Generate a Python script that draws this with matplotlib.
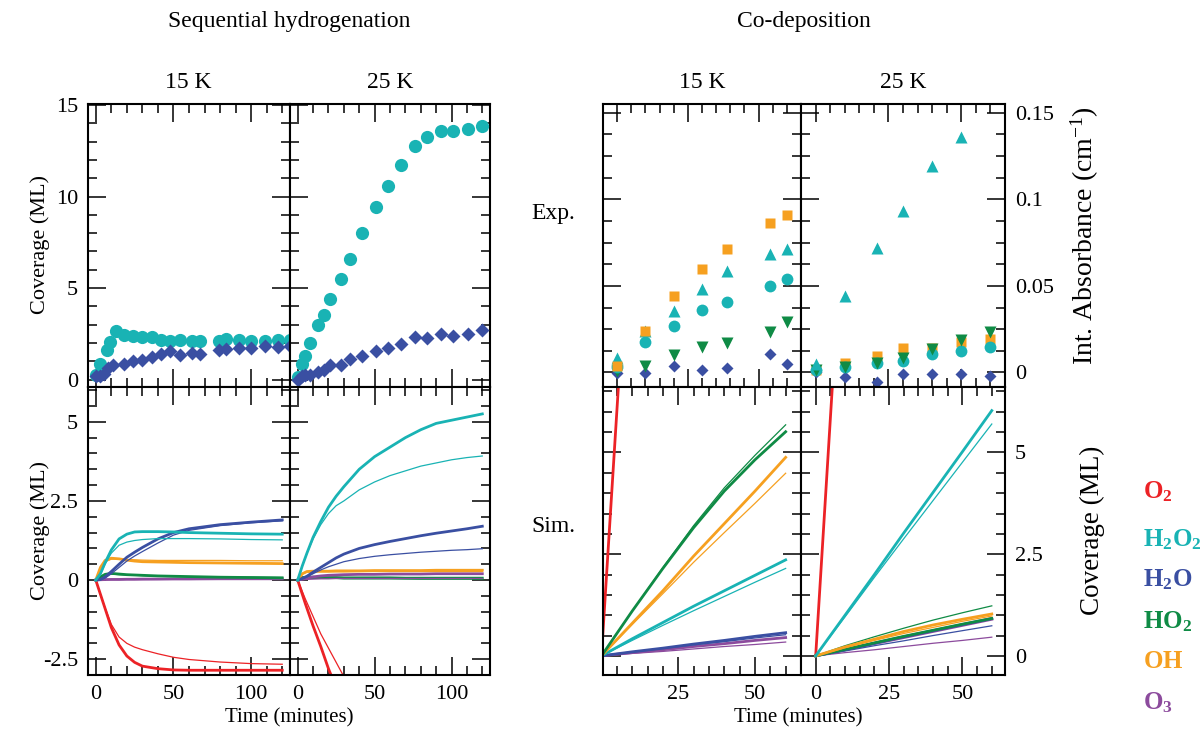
import matplotlib
matplotlib.use('Agg')
import matplotlib.pyplot as plt
from matplotlib.ticker import MultipleLocator, FuncFormatter

plt.rcParams['font.family'] = ['Liberation Serif', 'DejaVu Serif']
plt.rcParams['mathtext.fontset'] = 'custom'
plt.rcParams['mathtext.rm'] = 'Liberation Serif'
plt.rcParams['mathtext.bf'] = 'Liberation Serif:bold'
plt.rcParams['mathtext.it'] = 'Liberation Serif:italic'
plt.rcParams['axes.unicode_minus'] = False

C_O2 = '#ec2226'
C_H2O2 = '#19b3b4'
C_H2O = '#3a4fa2'
C_HO2 = '#0f8b45'
C_OH = '#f6a020'
C_O3 = '#8c4b9d'

# ---------------- Sequential hydrogenation, experiment ----------------
seq15_t_h2o2 = [0, 3, 7, 9, 13, 18, 24, 30, 36, 42, 48, 54, 62, 67, 79, 84, 92, 100, 109, 117, 125]
seq15_h2o2 = [0.27, 0.87, 1.6, 2.05, 2.64, 2.45, 2.4, 2.33, 2.33, 2.18, 2.09, 2.18, 2.13, 2.13, 2.09, 2.24, 2.15, 2.13, 2.13, 2.18, 2.18]
seq15_t_h2o = [0, 3, 5, 8, 11, 18, 24, 30, 36, 42, 48, 54, 62, 67, 79, 84, 92, 100, 109, 117, 125]
seq15_h2o = [0.18, 0.22, 0.33, 0.64, 0.82, 0.87, 1.0, 1.09, 1.22, 1.4, 1.55, 1.36, 1.45, 1.42, 1.6, 1.67, 1.73, 1.73, 1.82, 1.78, 1.82]

seq25_t = [0, 3, 5, 8, 13, 17, 21, 28, 34, 42, 51, 59, 67, 76, 84, 93, 101, 111, 120]
seq25_h2o2 = [0.13, 0.85, 1.27, 2.0, 3.0, 3.55, 4.4, 5.49, 6.58, 8.0, 9.45, 10.55, 11.73, 12.77, 13.24, 13.55, 13.6, 13.67, 13.86]
seq25_h2o = [0.0, 0.22, 0.27, 0.27, 0.42, 0.55, 0.78, 0.78, 1.13, 1.31, 1.58, 1.73, 1.95, 2.31, 2.25, 2.47, 2.4, 2.47, 2.73]

# ---------------- Sequential hydrogenation, simulation ----------------
sh15_t = [0, 3, 6, 10, 15, 20, 25, 30, 40, 50, 60, 80, 100, 120]
sh15_o2_a = [0, -0.45, -0.9, -1.5, -2.05, -2.4, -2.6, -2.72, -2.8, -2.84, -2.85, -2.85, -2.85, -2.85]
sh15_o2_b = [0, -0.45, -0.88, -1.4, -1.8, -2.0, -2.12, -2.2, -2.33, -2.44, -2.51, -2.59, -2.64, -2.66]
sh15_h2o2_a = [0, 0.2, 0.55, 0.95, 1.3, 1.45, 1.52, 1.53, 1.53, 1.52, 1.5, 1.48, 1.46, 1.45]
sh15_h2o2_b = [0, 0.2, 0.5, 0.85, 1.1, 1.2, 1.25, 1.28, 1.31, 1.31, 1.31, 1.3, 1.28, 1.27]
sh15_h2o_a = [0, 0.02, 0.1, 0.27, 0.5, 0.72, 0.88, 1.03, 1.3, 1.5, 1.62, 1.75, 1.83, 1.9]
sh15_h2o_b = [0, 0.01, 0.06, 0.2, 0.4, 0.6, 0.76, 0.9, 1.17, 1.42, 1.57, 1.72, 1.81, 1.87]
sh15_oh_a = [0, 0.4, 0.62, 0.69, 0.67, 0.63, 0.6, 0.58, 0.57, 0.56, 0.55, 0.54, 0.53, 0.52]
sh15_oh_b = [0, 0.35, 0.58, 0.66, 0.67, 0.65, 0.64, 0.63, 0.62, 0.62, 0.62, 0.62, 0.61, 0.61]
sh15_ho2_a = [0, 0.1, 0.18, 0.21, 0.19, 0.17, 0.16, 0.15, 0.13, 0.12, 0.11, 0.09, 0.08, 0.07]
sh15_ho2_b = [0, 0.08, 0.16, 0.19, 0.17, 0.16, 0.15, 0.14, 0.12, 0.11, 0.1, 0.09, 0.09, 0.08]
sh15_o3_a = [0, 0.01, 0.015, 0.02, 0.02, 0.025, 0.025, 0.03, 0.03, 0.035, 0.035, 0.04, 0.04, 0.04]
sh15_o3_b = [0, 0.005, 0.01, 0.01, 0.01, 0.015, 0.015, 0.015, 0.02, 0.02, 0.02, 0.025, 0.025, 0.03]

sh25_t = [0, 3, 6, 10, 15, 20, 25, 30, 40, 50, 60, 70, 80, 90, 100, 110, 120]
sh25_t_o2 = [0, 5, 10, 15, 20, 25, 30, 35]
sh25_o2_a = [0, -0.75, -1.45, -2.1, -2.8, -3.4, -3.9, -4.3]
sh25_o2_b = [0, -0.6, -1.15, -1.7, -2.15, -2.6, -3.05, -3.4]
sh25_h2o2_a = [0, 0.45, 0.85, 1.35, 1.85, 2.3, 2.65, 2.95, 3.5, 3.9, 4.2, 4.5, 4.75, 4.95, 5.05, 5.15, 5.25]
sh25_h2o2_b = [0, 0.45, 0.85, 1.3, 1.75, 2.1, 2.35, 2.5, 2.85, 3.1, 3.3, 3.45, 3.6, 3.7, 3.8, 3.87, 3.92]
sh25_h2o_a = [0, 0.05, 0.12, 0.25, 0.4, 0.55, 0.7, 0.82, 1.0, 1.12, 1.22, 1.31, 1.4, 1.48, 1.55, 1.62, 1.7]
sh25_h2o_b = [0, 0.04, 0.1, 0.2, 0.32, 0.42, 0.5, 0.58, 0.68, 0.75, 0.8, 0.84, 0.88, 0.91, 0.94, 0.96, 0.99]
sh25_oh_a = [0, 0.2, 0.27, 0.28, 0.28, 0.28, 0.29, 0.29, 0.29, 0.3, 0.3, 0.3, 0.3, 0.31, 0.31, 0.31, 0.31]
sh25_oh_b = [0, 0.18, 0.25, 0.26, 0.26, 0.26, 0.26, 0.26, 0.27, 0.27, 0.27, 0.27, 0.27, 0.27, 0.27, 0.27, 0.27]
sh25_o3_a = [0, 0.03, 0.06, 0.1, 0.13, 0.15, 0.16, 0.17, 0.18, 0.18, 0.19, 0.19, 0.19, 0.2, 0.2, 0.2, 0.2]
sh25_o3_b = [0, 0.01, 0.02, 0.03, 0.04, 0.04, 0.05, 0.05, 0.05, 0.05, 0.05, 0.05, 0.05, 0.05, 0.05, 0.05, 0.05]
sh25_ho2_a = [0, 0.08, 0.09, 0.09, 0.08, 0.08, 0.08, 0.07, 0.07, 0.07, 0.07, 0.06, 0.06, 0.06, 0.06, 0.06, 0.06]
sh25_ho2_b = [0, 0.05, 0.05, 0.05, 0.05, 0.05, 0.05, 0.04, 0.04, 0.04, 0.04, 0.04, 0.03, 0.03, 0.03, 0.03, 0.03]

# ---------------- Co-deposition, experiment (Int. absorbance) ----------------
cd15_t = [0, 10, 20, 30, 39, 54, 60]
cd15_tri = [0.0084, 0.024, 0.0354, 0.0479, 0.0586, 0.0683, 0.0715]
cd15_sq = [0.0036, 0.0239, 0.0441, 0.0598, 0.071, 0.0864, 0.0908]
cd15_circ = [0.0029, 0.0177, 0.0267, 0.036, 0.0407, 0.05, 0.0537]
cd15_tdown = [0.0009, 0.0036, 0.01, 0.0148, 0.0171, 0.0231, 0.0292]
cd15_diam = [-0.0006, -0.0006, 0.0038, 0.0017, 0.0023, 0.0106, 0.0046]

cd25_t = [0, 10, 21, 30, 40, 50, 60]
cd25_t_tri = [0, 10, 21, 30, 40, 50]
cd25_tri = [0.0048, 0.044, 0.0717, 0.0931, 0.119, 0.136]
cd25_sq = [0.0013, 0.0052, 0.0096, 0.0143, 0.0143, 0.0176, 0.0195]
cd25_circ = [0.0013, 0.0029, 0.0057, 0.0067, 0.0105, 0.0124, 0.0147]
cd25_tdown = [0.0013, 0.0029, 0.0057, 0.0086, 0.0138, 0.0187, 0.0235]
cd25_diam = [0.0, -0.0029, -0.0054, -0.001, -0.001, -0.001, -0.0019]

# ---------------- Co-deposition, simulation ----------------
cs_t = [0, 10, 20, 30, 40, 50, 60]
cs_t_o2 = [0, 6]
cs15_o2 = [0, 7.2]
cs15_ho2_a = [0, 1.1, 2.15, 3.15, 4.05, 4.82, 5.51]
cs15_ho2_b = [0, 1.1, 2.17, 3.2, 4.13, 4.93, 5.68]
cs15_oh_a = [0, 0.8, 1.6, 2.45, 3.25, 4.05, 4.88]
cs15_oh_b = [0, 0.77, 1.53, 2.3, 3.03, 3.75, 4.49]
cs15_h2o2_a = [0, 0.42, 0.82, 1.22, 1.6, 1.98, 2.36]
cs15_h2o2_b = [0, 0.38, 0.75, 1.11, 1.46, 1.81, 2.15]
cs15_h2o_a = [0, 0.1, 0.19, 0.29, 0.38, 0.48, 0.57]
cs15_h2o_b = [0, 0.09, 0.18, 0.27, 0.35, 0.44, 0.52]
cs15_o3_a = [0, 0.08, 0.15, 0.23, 0.3, 0.38, 0.45]
cs15_o3_b = [0, 0.06, 0.11, 0.17, 0.23, 0.28, 0.34]

cs25_o2 = [0, 7.0]
cs25_h2o2_a = [0, 1.0, 2.0, 3.02, 4.02, 5.02, 6.03]
cs25_h2o2_b = [0, 0.96, 1.93, 2.88, 3.82, 4.76, 5.7]
cs25_ho2_a = [0, 0.16, 0.32, 0.48, 0.63, 0.78, 0.92]
cs25_ho2_b = [0, 0.25, 0.47, 0.68, 0.88, 1.06, 1.23]
cs25_oh_a = [0, 0.22, 0.41, 0.6, 0.76, 0.9, 1.03]
cs25_oh_b = [0, 0.2, 0.38, 0.55, 0.7, 0.85, 0.98]
cs25_h2o_a = [0, 0.15, 0.31, 0.47, 0.62, 0.77, 0.92]
cs25_h2o_b = [0, 0.12, 0.25, 0.37, 0.5, 0.62, 0.74]
cs25_o3_a = [0, 0.15, 0.3, 0.45, 0.6, 0.75, 0.9]
cs25_o3_b = [0, 0.08, 0.15, 0.23, 0.31, 0.38, 0.46]

legend_labels = [r'$\mathbf{O_2}$', r'$\mathbf{H_2O_2}$', r'$\mathbf{H_2O}$',
                 r'$\mathbf{HO_2}$', r'$\mathbf{OH}$', r'$\mathbf{O_3}$']
legend_colors = [C_O2, C_H2O2, C_H2O, C_HO2, C_OH, C_O3]

# ---------------- figure ----------------
W, H = 1200, 734
fig = plt.figure(figsize=(12, 7.34), dpi=100)


def add_ax(x0, y0, x1, y1):
    return fig.add_axes([x0 / W, 1 - y1 / H, (x1 - x0) / W, (y1 - y0) / H])


FS = 17
TFS = 16
fmt = FuncFormatter(lambda v, p: ('%g' % v) if abs(v) > 1e-9 else '0')


def style(ax, xmaj, xmin, ymaj, ymin, xlab=False, ylab_left=False, ylab_right=False):
    ax.xaxis.set_major_locator(MultipleLocator(xmaj))
    ax.xaxis.set_minor_locator(MultipleLocator(xmin))
    ax.yaxis.set_major_locator(MultipleLocator(ymaj))
    ax.yaxis.set_minor_locator(MultipleLocator(ymin))
    ax.tick_params(which='both', direction='in', top=True, right=True,
                   labelsize=TFS, labelbottom=xlab, labelleft=ylab_left,
                   labelright=ylab_right, pad=7)
    ax.tick_params(which='major', length=13, width=1.1)
    ax.tick_params(which='minor', length=6.5, width=1.1)
    ax.xaxis.set_major_formatter(fmt)
    ax.yaxis.set_major_formatter(fmt)
    for s in ax.spines.values():
        s.set_linewidth(1.5)


LW_A = 2.0
LW_B = 0.9

# Panel 1: seq 15K exp
ax1 = add_ax(88, 104, 290, 387)
ax1.plot(seq15_t_h2o2, seq15_h2o2, 'o', color=C_H2O2, ms=9.5, mec='none', clip_on=False, zorder=3)
ax1.plot(seq15_t_h2o, seq15_h2o, 'D', color=C_H2O, ms=7, mec='none', clip_on=False, zorder=3)
ax1.set_xlim(-5, 125)
ax1.set_ylim(-0.4, 15.05)
style(ax1, 50, 10, 5, 1, ylab_left=True)

# Panel 2: seq 25K exp
ax2 = add_ax(290, 104, 490, 387)
ax2.plot(seq25_t, seq25_h2o2, 'o', color=C_H2O2, ms=9.5, mec='none', clip_on=False, zorder=3)
ax2.plot(seq25_t, seq25_h2o, 'D', color=C_H2O, ms=7, mec='none', clip_on=False, zorder=3)
ax2.set_xlim(-5, 125)
ax2.set_ylim(-0.4, 15.05)
style(ax2, 50, 10, 5, 1)

# Panel 3: seq 15K sim
ax3 = add_ax(88, 387, 290, 675)
for a, b, c in [(sh15_o2_a, sh15_o2_b, C_O2), (sh15_o3_a, sh15_o3_b, C_O3),
                (sh15_ho2_a, sh15_ho2_b, C_HO2), (sh15_oh_a, sh15_oh_b, C_OH),
                (sh15_h2o_a, sh15_h2o_b, C_H2O), (sh15_h2o2_a, sh15_h2o2_b, C_H2O2)]:
    ax3.plot(sh15_t, b, '-', color=c, lw=LW_B)
    ax3.plot(sh15_t, a, '-', color=c, lw=LW_A)
ax3.set_xlim(-5, 125)
ax3.set_ylim(-3.0, 6.1)
style(ax3, 50, 10, 2.5, 0.5, xlab=True, ylab_left=True)

# Panel 4: seq 25K sim
ax4 = add_ax(290, 387, 490, 675)
ax4.plot(sh25_t_o2, sh25_o2_b, '-', color=C_O2, lw=LW_B)
ax4.plot(sh25_t_o2, sh25_o2_a, '-', color=C_O2, lw=LW_A)
for a, b, c in [(sh25_ho2_a, sh25_ho2_b, C_HO2), (sh25_o3_a, sh25_o3_b, C_O3),
                (sh25_oh_a, sh25_oh_b, C_OH), (sh25_h2o_a, sh25_h2o_b, C_H2O),
                (sh25_h2o2_a, sh25_h2o2_b, C_H2O2)]:
    ax4.plot(sh25_t, b, '-', color=c, lw=LW_B)
    ax4.plot(sh25_t, a, '-', color=c, lw=LW_A)
ax4.set_xlim(-5, 125)
ax4.set_ylim(-3.0, 6.1)
style(ax4, 50, 10, 2.5, 0.5, xlab=True)

# Panel 5: co-dep 15K exp
ax5 = add_ax(603, 104, 801, 387)
ax5.plot(cd15_t, cd15_diam, 'D', color=C_H2O, ms=6.5, mec='none', clip_on=False)
ax5.plot(cd15_t, cd15_tdown, 'v', color=C_HO2, ms=8, mec='none', clip_on=False)
ax5.plot(cd15_t, cd15_circ, 'o', color=C_H2O2, ms=8.5, mec='none', clip_on=False)
ax5.plot(cd15_t, cd15_tri, '^', color=C_H2O2, ms=8, mec='none', clip_on=False)
ax5.plot(cd15_t, cd15_sq, 's', color=C_OH, ms=7, mec='none', clip_on=False)
ax5.set_xlim(-5, 65)
ax5.set_ylim(-0.0084, 0.155)
style(ax5, 25, 5, 0.05, 0.0125)

# Panel 6: co-dep 25K exp
ax6 = add_ax(801, 104, 1005, 387)
ax6.plot(cd25_t, cd25_diam, 'D', color=C_H2O, ms=6.5, mec='none', clip_on=False)
ax6.plot(cd25_t, cd25_sq, 's', color=C_OH, ms=7, mec='none', clip_on=False)
ax6.plot(cd25_t, cd25_circ, 'o', color=C_H2O2, ms=8.5, mec='none', clip_on=False)
ax6.plot(cd25_t, cd25_tdown, 'v', color=C_HO2, ms=8, mec='none', clip_on=False)
ax6.plot(cd25_t_tri, cd25_tri, '^', color=C_H2O2, ms=8, mec='none', clip_on=False)
ax6.set_xlim(-5, 65)
ax6.set_ylim(-0.0084, 0.155)
style(ax6, 25, 5, 0.05, 0.0125, ylab_right=True)

# Panel 7: co-dep 15K sim
ax7 = add_ax(603, 387, 801, 675)
ax7.plot(cs_t_o2, cs15_o2, '-', color=C_O2, lw=LW_A)
for a, b, c in [(cs15_o3_a, cs15_o3_b, C_O3), (cs15_h2o_a, cs15_h2o_b, C_H2O),
                (cs15_h2o2_a, cs15_h2o2_b, C_H2O2), (cs15_oh_a, cs15_oh_b, C_OH),
                (cs15_ho2_a, cs15_ho2_b, C_HO2)]:
    ax7.plot(cs_t, b, '-', color=c, lw=LW_B)
    ax7.plot(cs_t, a, '-', color=c, lw=LW_A)
ax7.set_xlim(0.5, 65)
ax7.set_ylim(-0.47, 6.61)
style(ax7, 25, 5, 2.5, 0.5, xlab=True)

# Panel 8: co-dep 25K sim
ax8 = add_ax(801, 387, 1005, 675)
ax8.plot(cs_t_o2, cs25_o2, '-', color=C_O2, lw=LW_A)
for a, b, c in [(cs25_o3_a, cs25_o3_b, C_O3), (cs25_h2o_a, cs25_h2o_b, C_H2O),
                (cs25_ho2_a, cs25_ho2_b, C_HO2), (cs25_oh_a, cs25_oh_b, C_OH),
                (cs25_h2o2_a, cs25_h2o2_b, C_H2O2)]:
    ax8.plot(cs_t, b, '-', color=c, lw=LW_B)
    ax8.plot(cs_t, a, '-', color=c, lw=LW_A)
ax8.set_xlim(-5, 64.5)
ax8.set_ylim(-0.47, 6.61)
style(ax8, 25, 5, 2.5, 0.5, xlab=True, ylab_right=True)


def ftext(x, y, s, **kw):
    fig.text(x / W, 1 - y / H, s, **kw)


ftext(289, 22, 'Sequential hydrogenation', ha='center', va='center', fontsize=FS)
ftext(804, 22, 'Co-deposition', ha='center', va='center', fontsize=FS)
ftext(188, 83, '15 K', ha='center', va='center', fontsize=FS)
ftext(390, 83, '25 K', ha='center', va='center', fontsize=FS)
ftext(702, 83, '15 K', ha='center', va='center', fontsize=FS)
ftext(903, 83, '25 K', ha='center', va='center', fontsize=FS)
ftext(40, 245, 'Coverage (ML)', ha='center', va='center', rotation=90, fontsize=16)
ftext(40, 531, 'Coverage (ML)', ha='center', va='center', rotation=90, fontsize=16)
ftext(1085, 236, r'Int. Absorbance (cm$^{-1}$)', ha='center', va='center', rotation=90, fontsize=20)
ftext(1092, 530, 'Coverage (ML)', ha='center', va='center', rotation=90, fontsize=19.5)
ftext(553, 213, 'Exp.', ha='center', va='center', fontsize=FS)
ftext(553, 527, 'Sim.', ha='center', va='center', fontsize=FS)
ftext(289, 718, 'Time (minutes)', ha='center', va='center', fontsize=15)
ftext(798, 718, 'Time (minutes)', ha='center', va='center', fontsize=15)

legend_y = [492, 540, 580, 622, 662, 703]
for lab, col, yy in zip(legend_labels, legend_colors, legend_y):
    ftext(1143, yy, lab, ha='left', va='center', fontsize=18, color=col)

fig.savefig('out.png', dpi=100)
